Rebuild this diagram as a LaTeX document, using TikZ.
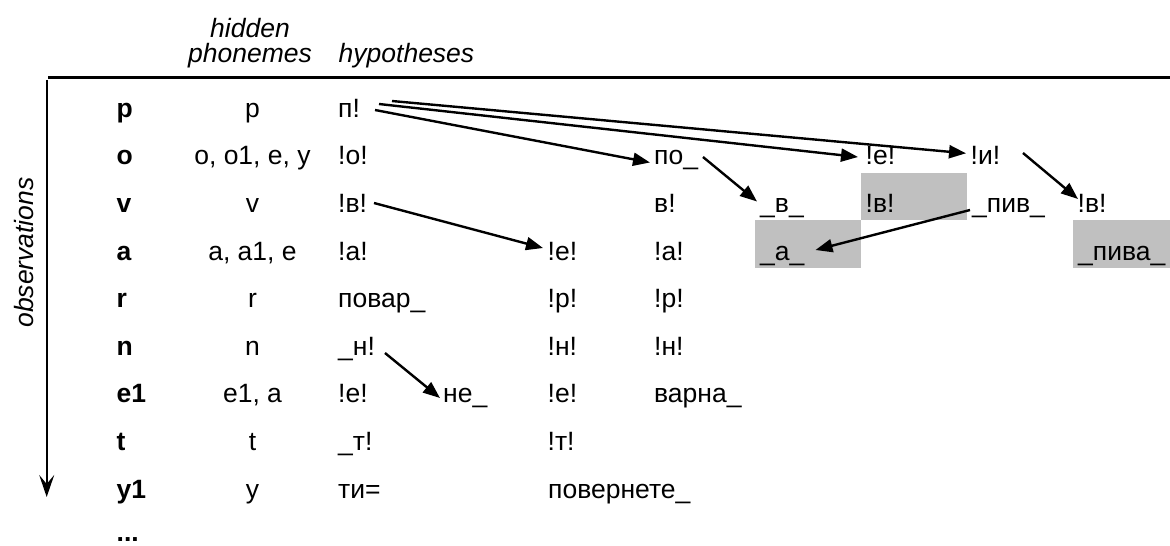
\documentclass[tikz,border=0pt]{standalone}
\usepackage{fontspec}
\setmainfont{Liberation Sans}
\usetikzlibrary{arrows.meta}
\definecolor{boxgray}{RGB}{192,192,192}
\begin{document}
\begin{tikzpicture}[x=1pt,y=-1pt,
  txt/.style={anchor=base west,inner sep=0pt,font=\fontsize{26.5}{30}\selectfont},
  lbl/.style={anchor=base west,inner sep=0pt,font=\fontsize{26.5}{30}\selectfont\bfseries},
  ctr/.style={anchor=base,inner sep=0pt,font=\fontsize{26.5}{30}\selectfont},
  hdr/.style={anchor=base,inner sep=0pt,font=\fontsize{26.5}{30}\selectfont\itshape},
  conn/.style={line width=2.4pt,-{Triangle[length=17pt,width=13pt]}},
  shade/.style={fill=boxgray,draw=none}]
\useasboundingbox (0,0) rectangle (1170,546);
% shaded cells
\fill[shade] (755,220.4) rectangle (861,268);
\fill[shade] (861,172.8) rectangle (967,220.4);
\fill[shade] (1073,220.4) rectangle (1170,268);
% headers
\node[hdr] (hid) at (250,37) {hidden};
\node[hdr] (pho) at (250,62) {phonemes};
\node[hdr,anchor=base west] (hyp) at (338.5,62) {hypotheses};
\node[hdr,rotate=90] (obs) at (33,252.5) {observations};
% axes
\coordinate (hl) at (48,77.5);
\coordinate (hr) at (1170,77.5);
\draw[line width=2.7pt] (hl) -- (hr);
\coordinate (axtop) at (46.7,80);
\coordinate (axbot) at (46.7,497);
\draw[line width=2.3pt,-{Stealth[length=22pt,width=15pt,inset=9pt]}] (axtop) -- (axbot);
% observations
\node[lbl] (o1) at (116.5,117.2) {p};
\node[lbl] (o2) at (116.5,164.8) {o};
\node[lbl] (o3) at (116.5,212.4) {v};
\node[lbl] (o4) at (116.5,260) {a};
\node[lbl] (o5) at (116.5,307.6) {r};
\node[lbl] (o6) at (116.5,355.2) {n};
\node[lbl] (o7) at (116.5,402.8) {e1};
\node[lbl] (o8) at (116.5,450.4) {t};
\node[lbl] (o9) at (116.5,498) {y1};
\node[lbl] (o10) at (116.5,541.5) {...};
% hidden phonemes
\node[ctr] (h1) at (252.5,117.2) {p};
\node[ctr] (h2) at (252.5,164.8) {o, o1, e, y};
\node[ctr] (h3) at (252.5,212.4) {v};
\node[ctr] (h4) at (252.5,260) {a, a1, e};
\node[ctr] (h5) at (252.5,307.6) {r};
\node[ctr] (h6) at (252.5,355.2) {n};
\node[ctr] (h7) at (252.5,402.8) {e1, a};
\node[ctr] (h8) at (252.5,450.4) {t};
\node[ctr] (h9) at (252.5,498) {y};
% hypotheses column A
\node[txt] (pA) at (338,117.2) {п!};
\node[txt] (oA) at (338,164.8) {!о!};
\node[txt] (vA) at (338,212.4) {!в!};
\node[txt] (aA) at (338,260) {!а!};
\node[txt] (rA) at (338,307.6) {повар\_};
\node[txt] (nA) at (338,355.2) {\_н!};
\node[txt] (eA) at (338,402.8) {!е!};
\node[txt] (tA) at (338,450.4) {\_т!};
\node[txt] (yA) at (338,498) {ти=};
% column B
\node[txt] (neB) at (443,402.8) {не\_};
% column C
\node[txt] (eC) at (547.5,260) {!е!};
\node[txt] (rC) at (547.5,307.6) {!р!};
\node[txt] (nC) at (547.5,355.2) {!н!};
\node[txt] (e2C) at (547.5,402.8) {!е!};
\node[txt] (tC) at (547.5,450.4) {!т!};
\node[txt] (yC) at (548,498) {повернете\_};
% column D
\node[txt] (poD) at (654,164.8) {по\_};
\node[txt] (vD) at (654,212.4) {в!};
\node[txt] (aD) at (654,260) {!а!};
\node[txt] (rD) at (654,307.6) {!р!};
\node[txt] (nD) at (654,355.2) {!н!};
\node[txt] (eD) at (654,402.8) {варна\_};
% column E
\node[txt] (vE) at (760,212.4) {\_в\_};
\node[txt] (aE) at (760,260) {\_а\_};
% column F
\node[txt] (eF) at (865.5,164.8) {!е!};
\node[txt] (vF) at (865.5,212.4) {!в!};
% column G
\node[txt] (iG) at (970.5,164.8) {!и!};
\node[txt] (pivG) at (972,212.4) {\_пив\_};
% column H
\node[txt] (vH) at (1077.5,212.4) {!в!};
\node[txt] (pivaH) at (1078,260) {\_пива\_};
% connectors
\draw[conn] ([shift={(37,-7.2)}]pA.base west) -- ([shift={(-4,-2.3)}]poD.base west);
\draw[conn] ([shift={(41,-13.2)}]pA.base west) -- ([shift={(-7.5,-7.8)}]eF.base west);
\draw[conn] ([shift={(54,-16.2)}]pA.base west) -- ([shift={(-4.5,-11.5)}]iG.base west);
\draw[conn] ([shift={(49,-7.8)}]poD.base west) -- ([shift={(-3,-10.9)}]vE.base west);
\draw[conn] ([shift={(52.5,-11.8)}]iG.base west) -- ([shift={(0.5,-13.4)}]vH.base west);
\draw[conn] ([shift={(-2,-2.4)}]pivG.base west) -- ([shift={(55.5,-10)}]aE.base west);
\draw[conn] ([shift={(36,-9.4)}]vA.base west) -- ([shift={(-4.5,-12)}]eC.base west);
\draw[conn] ([shift={(47,-2.2)}]nA.base west) -- ([shift={(-3,-4.8)}]neB.base west);
\end{tikzpicture}
\end{document}
